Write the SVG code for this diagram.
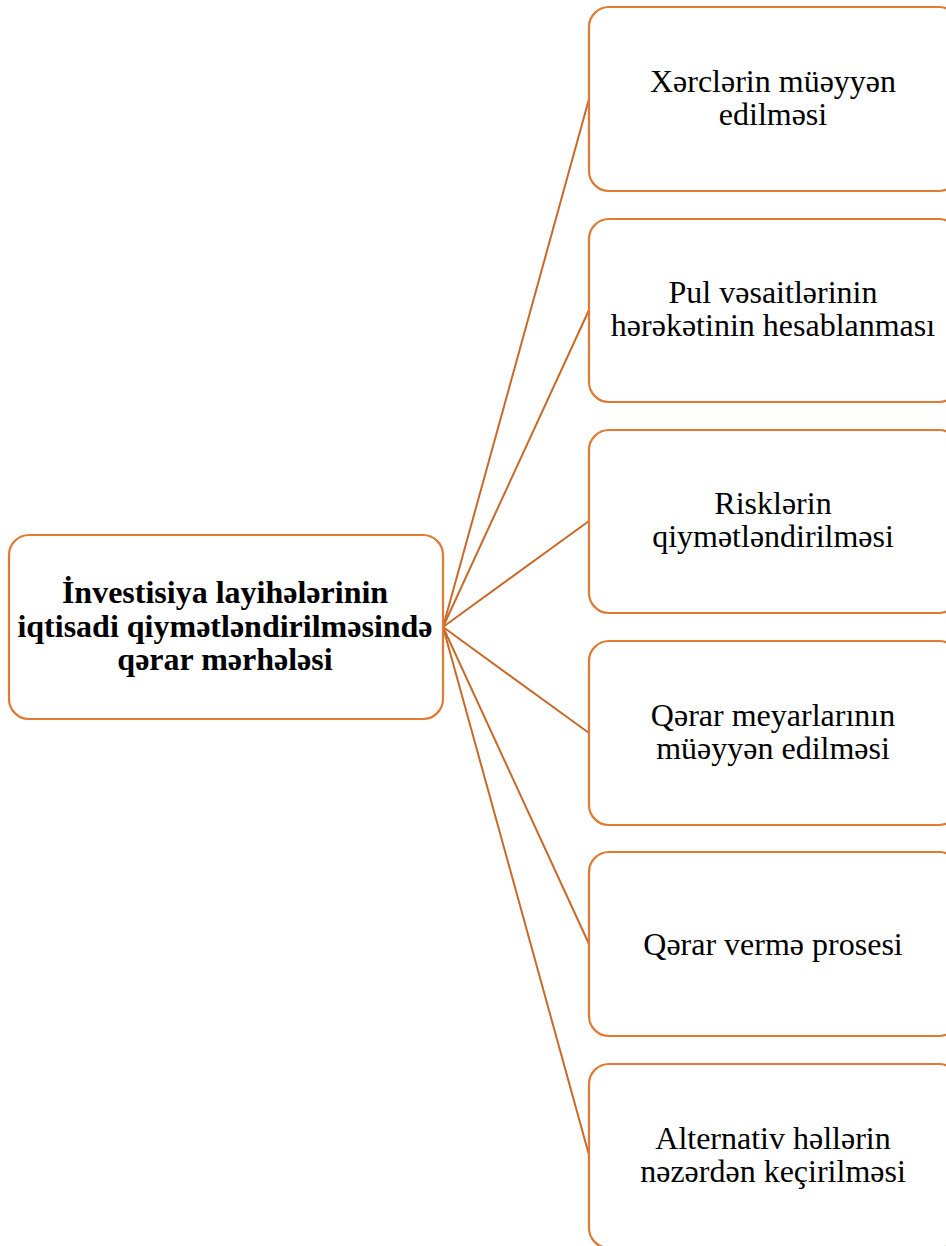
<svg xmlns="http://www.w3.org/2000/svg" width="946" height="1246" viewBox="0 0 946 1246">
<style>
.box{fill:#fff;stroke:#E07A35;stroke-width:2.2}
.t{font-family:"Liberation Serif","Times New Roman",serif;font-size:32px;fill:#000;text-anchor:middle}
.b{font-weight:bold}
.c line{stroke:#C8692A;stroke-width:2}
</style>
<rect width="946" height="1246" fill="#fff"/>
<g class="c" id="connectors">
<line x1="443" y1="627" x2="589" y2="99"/>
<line x1="443" y1="627" x2="589" y2="310"/>
<line x1="443" y1="627" x2="589" y2="521"/>
<line x1="443" y1="627" x2="589" y2="733"/>
<line x1="443" y1="627" x2="589" y2="944"/>
<line x1="443" y1="627" x2="589" y2="1155"/>
</g>
<g id="root">
<rect class="box" x="9" y="535" width="434" height="184" rx="20"/>
<text class="t b" x="225" y="603">İnvestisiya layihələrinin</text>
<text class="t b" x="225" y="637">iqtisadi qiymətləndirilməsində</text>
<text class="t b" x="225" y="670">qərar mərhələsi</text>
</g>
<g id="n1">
<rect class="box" x="589" y="7" width="370" height="184" rx="20"/>
<text class="t" x="773" y="92">Xərclərin müəyyən</text>
<text class="t" x="773" y="125">edilməsi</text>
</g>
<g id="n2">
<rect class="box" x="589" y="219" width="370" height="183" rx="20"/>
<text class="t" x="773" y="303">Pul vəsaitlərinin</text>
<text class="t" x="773" y="336">hərəkətinin hesablanması</text>
</g>
<g id="n3">
<rect class="box" x="589" y="430" width="370" height="183" rx="20"/>
<text class="t" x="773" y="514">Risklərin</text>
<text class="t" x="773" y="547">qiymətləndirilməsi</text>
</g>
<g id="n4">
<rect class="box" x="589" y="641" width="370" height="184" rx="20"/>
<text class="t" x="773" y="726">Qərar meyarlarının</text>
<text class="t" x="773" y="759">müəyyən edilməsi</text>
</g>
<g id="n5">
<rect class="box" x="589" y="852" width="370" height="184" rx="20"/>
<text class="t" x="773" y="955">Qərar vermə prosesi</text>
</g>
<g id="n6">
<rect class="box" x="589" y="1064" width="370" height="184" rx="20"/>
<text class="t" x="773" y="1149">Alternativ həllərin</text>
<text class="t" x="773" y="1182">nəzərdən keçirilməsi</text>
</g>
</svg>
